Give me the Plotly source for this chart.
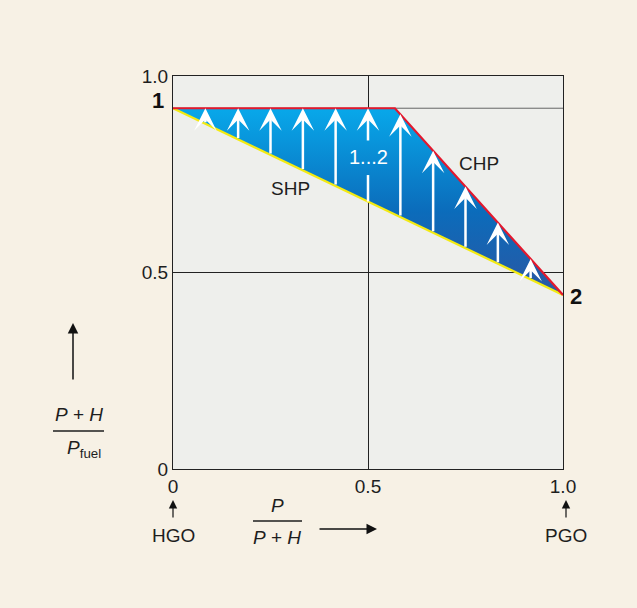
import numpy as np
import plotly.graph_objects as go

# ---- data ----
shp_x = [0.0, 1.0]
shp_y = [0.918, 0.443]
chp_x = [0.0, 0.569, 1.0]
chp_y = [0.918, 0.918, 0.443]
arrow_x = [0.083, 0.167, 0.25, 0.333, 0.417, 0.5, 0.583, 0.667, 0.75, 0.833, 0.917]
label_gap = [0.748, 0.832]   # gap in the x=0.5 arrow for the "1...2" label
x_ticks = [0, 0.5, 1.0]
x_ticktext = ["0", "0.5", "1.0"]
y_ticks = [0, 0.5, 1.0]
y_ticktext = ["0", "0.5", "1.0"]

FONT = "Liberation Sans, Arial, sans-serif"
TXT = "#1e1e1e"
BG = "#f7f1e5"
PLOT_BG = "#eeefec"

fig = go.Figure()

# reference line at the level of point 1
fig.add_trace(go.Scatter(x=[0, 1], y=[chp_y[0], chp_y[0]], mode="lines",
                         line=dict(color="#666666", width=1), hoverinfo="skip", showlegend=False))

# filled region between SHP and CHP
poly_x = chp_x + shp_x[::-1]
poly_y = chp_y + shp_y[::-1]
fig.add_trace(go.Scatter(
    x=poly_x, y=poly_y, mode="lines", fill="toself", line=dict(width=0),
    fillgradient=dict(type="vertical",
                      colorscale=[[0, "#2a57a3"], [0.45, "#0b6cbb"], [1, "#08a8ea"]]),
    hoverinfo="skip", showlegend=False))

# SHP and CHP lines
fig.add_trace(go.Scatter(x=shp_x, y=shp_y, mode="lines",
                         line=dict(color="#f3ea12", width=2.2), hoverinfo="skip", showlegend=False))
fig.add_trace(go.Scatter(x=chp_x, y=chp_y, mode="lines",
                         line=dict(color="#e3182d", width=2.2), hoverinfo="skip", showlegend=False))

annotations = []
for xv in arrow_x:
    y_lo = float(np.interp(xv, shp_x, shp_y))
    y_hi = float(np.interp(xv, chp_x, chp_y))
    if abs(xv - 0.5) < 1e-6:
        # lower piece below the label
        fig.add_trace(go.Scatter(x=[xv, xv], y=[y_lo, label_gap[0]], mode="lines",
                                 line=dict(color="white", width=2.5),
                                 hoverinfo="skip", showlegend=False))
        y_lo = label_gap[1]
    annotations.append(dict(x=xv, y=y_hi, ax=xv, ay=y_lo, xref="x", yref="y",
                            axref="x", ayref="y", text="", showarrow=True,
                            arrowhead=3, arrowsize=1.5, arrowwidth=2.5,
                            arrowcolor="white", standoff=0))

def px(xp, yp):
    return (xp - 173) / 390.0, (469 - yp) / 393.0

def txt(xp, yp, s, size=19, color=TXT, bold=False, xanchor="center"):
    x, y = px(xp, yp)
    annotations.append(dict(x=x, y=y, xref="paper", yref="paper", text=s, showarrow=False,
                            xanchor=xanchor, yanchor="middle",
                            font=dict(family=FONT, size=size, color=color,
                                      weight="bold" if bold else "normal")))

def arrow(x0, y0, x1, y1, width=1.5):
    x, y = px(x1, y1)
    annotations.append(dict(x=x, y=y, xref="paper", yref="paper", ax=x0 - x1, ay=y0 - y1,
                            axref="pixel", ayref="pixel", text="", showarrow=True,
                            arrowhead=2, arrowsize=1.4, arrowwidth=width,
                            arrowcolor="#111", standoff=0))

txt(158, 101, "1", size=22, bold=True, color="#111")
txt(576, 296, "2", size=22, bold=True, color="#111")
txt(290, 188, "SHP")
txt(479, 163, "CHP")
txt(368, 157, "1...2", size=20, color="white")

# y-axis label
arrow(73, 381, 73, 323)
txt(79, 414, "<i>P</i> + <i>H</i>", size=19)
txt(84, 449, "<i>P</i><sub>fuel</sub>", size=19)
# x-axis label
txt(277, 505, "<i>P</i>", size=19)
txt(277, 537, "<i>P</i> + <i>H</i>", size=19)
arrow(318, 529, 377, 529)
# HGO / PGO
arrow(173, 519, 173, 500, width=1.2)
arrow(566, 519, 566, 500, width=1.2)
txt(173, 535, "HGO")
txt(566, 535, "PGO")

shapes = []
for (xa, xb, yy) in [(53, 104, 431), (253, 302, 521)]:
    a = px(xa, yy); b = px(xb, yy)
    shapes.append(dict(type="line", xref="paper", yref="paper", x0=a[0], y0=a[1],
                       x1=b[0], y1=b[1], line=dict(color=TXT, width=1.5)))

fig.update_layout(
    width=637, height=608,
    margin=dict(l=173, r=74, t=76, b=139),
    paper_bgcolor=BG, plot_bgcolor=PLOT_BG,
    font=dict(family=FONT, size=19, color=TXT),
    annotations=annotations, shapes=shapes,
    xaxis=dict(range=[0, 1], tickvals=x_ticks, ticktext=x_ticktext, showgrid=True,
               gridcolor="#222", gridwidth=1, zeroline=False, showline=True,
               linecolor="#222", linewidth=1, mirror=True, ticks="", fixedrange=True,
               tickfont=dict(size=19)),
    yaxis=dict(range=[0, 1], tickvals=y_ticks, ticktext=y_ticktext, showgrid=True,
               gridcolor="#222", gridwidth=1, zeroline=False, showline=True,
               linecolor="#222", linewidth=1, mirror=True, ticks="", fixedrange=True,
               tickfont=dict(size=19)),
    showlegend=False,
)

fig.write_html("out.html", config={"displayModeBar": False},
               post_script="document.body.style.margin='0';document.body.style.background='%s';" % BG)
